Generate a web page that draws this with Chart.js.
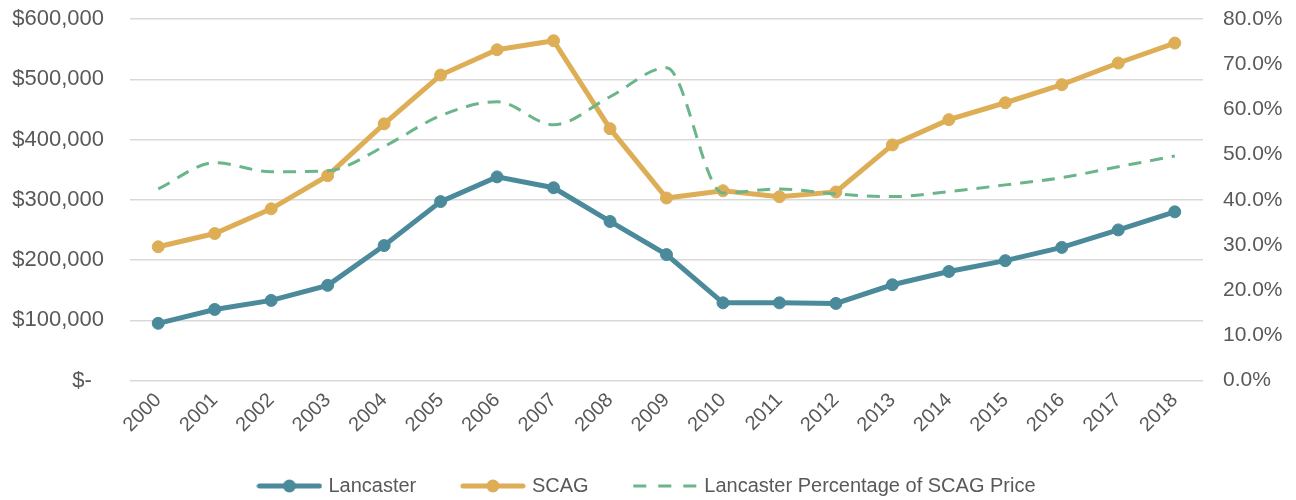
<!DOCTYPE html>
<html>
<head>
<meta charset="utf-8">
<script src="https://cdn.jsdelivr.net/npm/chart.js@4/dist/chart.umd.min.js"></script>
<style>
  html, body { margin: 0; padding: 0; background: #fff; }
  #wrap { width: 1296px; height: 500px; position: relative; }
</style>
</head>
<body>
<div id="wrap"><canvas id="priceChart"></canvas></div>
<script>
const years = ['2000', '2001', '2002', '2003', '2004', '2005', '2006', '2007', '2008', '2009',
    '2010', '2011', '2012', '2013', '2014', '2015', '2016', '2017', '2018'];

// median home price
const lancasterPrice = [95000, 118000, 133000, 158000, 224000, 297000, 338000, 320000, 264000, 209000,
    129000, 129000, 128000, 159000, 181000, 199000, 221000, 250000, 280000];
const scagPrice = [222000, 244000, 285000, 340000, 426000, 507000, 549000, 564000, 418000, 303000,
    315000, 305000, 313000, 391000, 433000, 461000, 491000, 527000, 560000];
// Lancaster as share of SCAG (percent)
const lancasterPct = [42.4, 48.2, 46.2, 46.4, 51.8, 58.6, 61.7, 56.6, 62.8, 69.2,
    41.5, 42.4, 41.3, 40.7, 41.8, 43.3, 44.9, 47.3, 49.7];

const leftTicks = [0, 100000, 200000, 300000, 400000, 500000, 600000];

const colLancaster = '#4a8a9b';
const colScag = '#ddae56';
const colPct = '#6bb58a';
const textColor = '#595959';
const fontFamily = '"Liberation Sans", Arial, sans-serif';

//legend icons: line with a dot, or dashes
function makeIcon(color, dashed) {
    const c = document.createElement('canvas');
    c.width = 66;
    c.height = 14;
    const ctx = c.getContext('2d');
    ctx.strokeStyle = color;
    ctx.fillStyle = color;
    if (dashed) {
        ctx.lineWidth = 3;
        ctx.setLineDash([13, 12]);
        ctx.beginPath();
        ctx.moveTo(1, 7);
        ctx.lineTo(65, 7);
        ctx.stroke();
    } else {
        ctx.lineWidth = 5;
        ctx.lineCap = 'round';
        ctx.beginPath();
        ctx.moveTo(3, 7);
        ctx.lineTo(63, 7);
        ctx.stroke();
        ctx.beginPath();
        ctx.arc(33, 7, 6.5, 0, Math.PI * 2);
        ctx.fill();
    }
    return c;
}

const icons = [makeIcon(colLancaster, false), makeIcon(colScag, false), makeIcon(colPct, true)];

new Chart(document.getElementById('priceChart'), {
    type: 'line',
    data: {
        labels: years,
        datasets: [
            {
                label: 'Lancaster',
                data: lancasterPrice,
                yAxisID: 'y',
                borderColor: colLancaster,
                backgroundColor: colLancaster,
                borderWidth: 5,
                pointRadius: 6,
                pointBorderWidth: 1,
                tension: 0,
                order: 1
            },
            {
                label: 'SCAG',
                data: scagPrice,
                yAxisID: 'y',
                borderColor: colScag,
                backgroundColor: colScag,
                borderWidth: 5,
                pointRadius: 6,
                pointBorderWidth: 1,
                tension: 0,
                order: 2
            },
            {
                label: 'Lancaster Percentage of SCAG Price',
                data: lancasterPct,
                yAxisID: 'y1',
                borderColor: colPct,
                backgroundColor: colPct,
                borderWidth: 3,
                borderDash: [13, 9],
                pointRadius: 0,
                cubicInterpolationMode: 'monotone',
                order: 0
            }
        ]
    },
    options: {
        responsive: true,
        maintainAspectRatio: false,
        animation: false,
        layout: { padding: { top: 19, left: 0, right: 0, bottom: -6 } },
        plugins: {
            tooltip: { enabled: false },
            legend: {
                position: 'bottom',
                labels: {
                    color: textColor,
                    font: { family: fontFamily, size: 20 },
                    usePointStyle: true,
                    pointStyleWidth: 58,
                    boxHeight: 14,
                    padding: 31,
                    //trailing spaces widen the gap between items
                    generateLabels: chart => chart.data.datasets.map((ds, i, all) => ({
                        text: i < all.length - 1 ? ds.label + '   ' : ds.label,
                        pointStyle: icons[i],
                        fillStyle: ds.borderColor,
                        strokeStyle: ds.borderColor,
                        fontColor: textColor,
                        lineWidth: 0,
                        hidden: false,
                        datasetIndex: i
                    }))
                }
            }
        },
        scales: {
            x: {
                offset: true,
                grid: { display: false, drawTicks: false },
                border: { display: false },
                ticks: {
                    color: textColor,
                    font: { family: fontFamily, size: 20 },
                    minRotation: 45,
                    maxRotation: 45,
                    padding: 8
                }
            },
            y: {
                position: 'left',
                min: 0,
                max: 600000,
                afterFit: scale => { scale.width = 130; },
                afterBuildTicks: scale => { scale.ticks = leftTicks.map(v => ({ value: v })); },
                grid: { color: '#d9d9d9', lineWidth: 1.5, drawTicks: true, tickLength: 26, tickColor: 'rgba(0,0,0,0)' },
                border: { display: false },
                ticks: {
                    color: textColor,
                    font: { family: fontFamily, size: 22 },
                    padding: 0,
                    callback: v => v === 0 ? '$-  ' : '$' + v.toLocaleString('en-US')
                }
            },
            y1: {
                position: 'right',
                min: 0,
                max: 80,
                afterFit: scale => { scale.width = 93; },
                grid: { drawOnChartArea: false, color: 'rgba(0,0,0,0)', drawTicks: true, tickLength: 20, tickColor: 'rgba(0,0,0,0)' },
                border: { display: false },
                ticks: {
                    stepSize: 10,
                    color: textColor,
                    font: { family: fontFamily, size: 21 },
                    padding: 0,
                    callback: v => v.toFixed(1) + '%'
                }
            }
        }
    }
});
</script>
</body>
</html>
